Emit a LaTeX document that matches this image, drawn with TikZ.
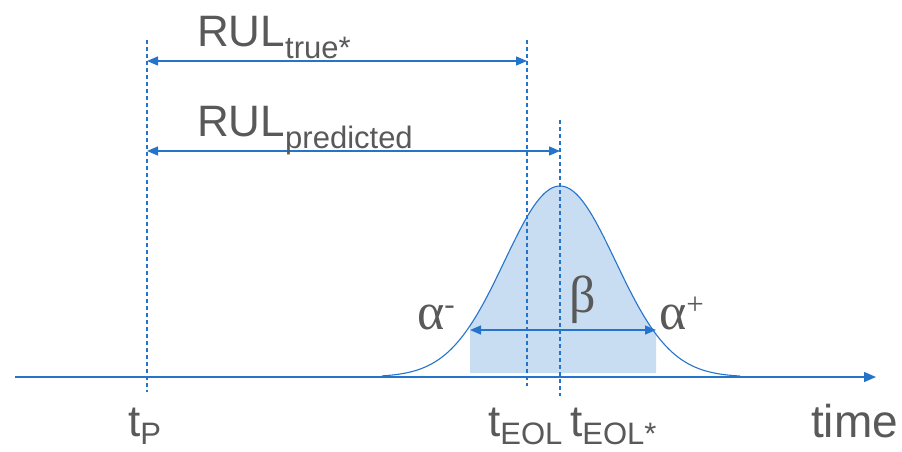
\documentclass[tikz,border=0pt]{standalone}
\usepackage{fontspec}
\setmainfont{Liberation Sans}
\newfontfamily\greekfont{Liberation Serif}
\usetikzlibrary{arrows.meta}
\definecolor{lineblue}{HTML}{2474CC}
\definecolor{areablue}{HTML}{C8DCF2}
\definecolor{textgray}{HTML}{595959}

\newcommand{\bigtxt}{\fontsize{44}{48}\selectfont}
\newcommand{\subtxt}{\fontsize{31}{34}\selectfont}
\newcommand{\lowered}[2]{\raisebox{-#1}{\subtxt #2}}

\begin{document}
\begin{tikzpicture}[x=1pt, y=-1pt,
    axisline/.style={lineblue, line width=1.3pt},
    guide/.style={lineblue, line width=1.1pt, dash pattern=on 4pt off 3pt},
    span/.style={lineblue, line width=1.3pt, {Triangle[length=11pt,width=9pt]}-{Triangle[length=11pt,width=9pt]}},
    lbl/.style={anchor=base west, inner sep=0pt, text=textgray, font=\bigtxt},
    grk/.style={anchor=base west, inner sep=0pt, text=textgray, font=\greekfont\fontsize{52}{54}\selectfont}]

  \useasboundingbox (0,0) rectangle (902,451);

  % Shaded interval under the density
  \fill[areablue] (470,373) -- plot[domain=470:656, samples=80]
    (\x, {377-191*exp(-0.5*((\x-560)/55.5)*((\x-560)/55.5))}) -- (656,373) -- cycle;

  % Density curve
  \draw[lineblue, line width=1.1pt] plot[domain=382:740, samples=140]
    (\x, {377-191*exp(-0.5*((\x-560)/55.5)*((\x-560)/55.5))});

  % Guide coordinates
  \coordinate (pTop) at (147,40);
  \coordinate (pBot) at (147,392);
  \coordinate (eolTop) at (527,40);
  \coordinate (eolBot) at (527,386);
  \coordinate (eolsTop) at (560,120);
  \coordinate (eolsBot) at (560,396);

  % Dashed guides
  \draw[guide] (pTop) -- (pBot);
  \draw[guide] (eolTop) -- (eolBot);
  \draw[guide] (eolsTop) -- (eolsBot);

  % Time axis
  \coordinate (axStart) at (15,377);
  \coordinate (axEnd) at (876,377);
  \draw[axisline, -{Triangle[length=12pt,width=10pt]}] (axStart) -- (axEnd);

  % RUL spans
  \coordinate (trueL) at (147,61);
  \coordinate (trueR) at (527,61);
  \coordinate (predL) at (147,151);
  \coordinate (predR) at (560,151);
  \draw[span] (trueL) -- (trueR);
  \draw[span] (predL) -- (predR);

  % Beta interval
  \coordinate (betaL) at (470,330);
  \coordinate (betaR) at (656,330);
  \draw[span] (betaL) -- (betaR);

  % Labels
  \node[lbl] (rulTrue) at (197,46) {RUL\lowered{12pt}{true*}};
  \node[lbl] (rulPred) at (197,136) {RUL\lowered{12pt}{predicted}};
  \node[lbl] (tP) at (128,436) {t\lowered{8pt}{P}};
  \node[lbl] (tEOL) at (488,436) {t\lowered{8pt}{EOL}};
  \node[lbl] (tEOLs) at (570,436) {t\lowered{8pt}{EOL*}};
  \node[lbl, font=\fontsize{46}{48}\selectfont] (timeLbl) at (811,437) {time};
  \node[grk] (alphaMinus) at (417,329) {α\raisebox{15pt}{\subtxt -}};
  \node[grk] (betaLbl) at (569,312) {β};
  \node[grk] (alphaPlus) at (659,329) {α\raisebox{15pt}{\subtxt +}};

\end{tikzpicture}
\end{document}
